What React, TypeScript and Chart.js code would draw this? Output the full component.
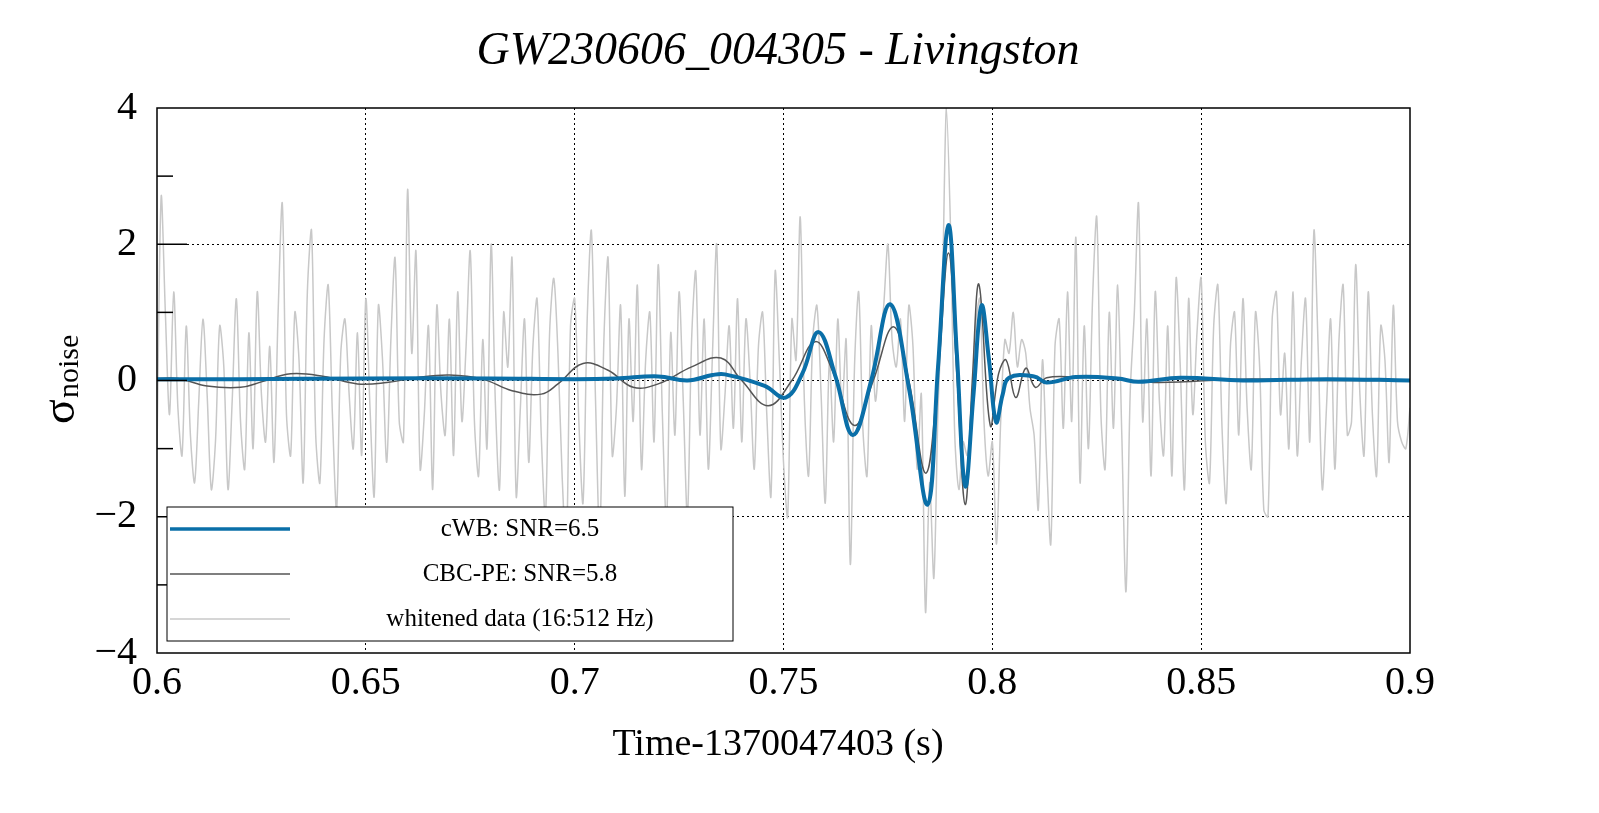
import React, { useEffect, useRef } from "react";
import { Chart, registerables } from "chart.js";
Chart.register(...registerables);

const whitenedStart = 0.6;
const whitenedStep = 0.001;
const whitened = [
  -1.0,2.7,1.0,-0.5,1.3,-0.4,-1.1,0.8,-0.8,-1.5,
  -0.3,0.9,-0.2,-1.6,-0.9,0.8,0.2,-1.6,-0.3,1.2,
  -0.6,-1.3,0.7,-1.0,1.3,-0.2,-0.9,0.5,-1.2,1.0,
  2.6,-0.5,-1.1,1.0,0.3,-1.5,1.3,2.2,-0.8,-1.5,
  0.6,1.4,-0.5,-1.9,0.4,0.9,-0.2,-1.0,0.7,-1.1,
  1.2,-0.4,-1.7,1.1,0.3,-1.2,0.6,1.8,-0.6,-0.9,
  2.8,0.4,1.9,-1.3,-0.5,0.8,-1.6,1.1,-0.2,-0.8,
  0.9,-1.1,1.3,-0.6,0.5,1.9,-0.6,-1.4,0.6,-1.0,
  2.0,-0.3,-1.6,1.0,0.2,1.8,-1.7,-0.4,0.9,-1.2,
  0.5,1.2,-0.8,-2.0,0.7,1.5,0.4,-1.4,-2.5,0.8,
  1.2,-0.6,-1.8,0.9,2.2,-0.3,-2.3,0.6,1.8,-1.1,
  -0.4,1.1,-1.7,0.9,-0.6,1.4,-1.3,0.3,1.0,-0.9,
  1.7,-0.5,-2.1,0.7,-0.8,1.3,-0.3,-2.0,0.6,1.6,
  -0.8,0.9,-1.3,0.4,2.0,-1.0,-0.2,0.8,-0.7,1.2,
  -0.9,0.9,0.0,-1.3,0.5,1.0,-0.5,-1.7,1.6,0.3,
  -1.2,-2.0,0.9,0.3,2.4,-0.3,-1.4,0.6,1.1,-0.2,
  -1.8,0.3,-0.9,0.9,-0.4,0.6,-2.7,0.2,1.3,-0.7,
  -1.4,0.8,-0.3,0.4,1.1,2.0,0.6,0.2,0.9,-0.6,
  1.1,0.5,-1.3,-0.2,-3.4,-1.5,-2.9,-0.4,1.2,4.0,
  2.2,-0.8,-1.6,-0.9,-1.1,-0.5,0.8,1.2,-0.6,-1.4,
  -0.9,-2.4,-0.6,0.6,0.4,1.0,0.2,0.6,0.4,-0.4,
  -0.8,-1.9,0.3,-1.2,-2.4,0.5,0.9,-0.7,1.3,-0.6,
  2.1,-1.5,0.8,-1.0,1.2,2.4,-0.5,-1.3,1.0,-0.7,
  1.4,-0.8,-3.1,-0.2,1.0,2.6,-0.6,0.9,-1.4,1.3,
  -0.3,-1.1,0.8,-1.4,1.5,0.2,-1.6,1.2,-0.5,0.7,
  1.5,-0.9,-1.5,0.8,1.4,-0.7,-1.8,0.5,1.0,-0.8,
  1.2,-0.4,-1.3,1.0,0.2,-1.9,-2.0,0.9,1.3,-0.5,
  0.4,-1.0,1.3,-1.1,0.3,1.2,-0.9,2.2,0.5,-1.6,
  -0.4,0.9,-1.3,0.6,1.4,-0.8,-0.6,1.7,-0.2,-1.1,
  1.3,-0.5,-1.4,0.8,0.3,-1.2,1.1,-0.6,-0.9,-1.0,
  -0.4,
];

const cwbTimes = [0.6,0.62,0.65,0.68,0.7,0.71,0.72,0.727,0.733,0.736,0.7455,0.7505,0.7545,0.7584,0.7625,0.7666,0.771,0.7755,0.780,0.7845,0.787,0.7895,0.7915,0.7935,0.7955,0.7974,0.7992,0.8009,0.8025,0.804,0.810,0.813,0.82,0.83,0.835,0.845,0.86,0.88,0.9];
const cwbValues = [0.02,0.02,0.03,0.03,0.02,0.03,0.06,0.0,0.08,0.09,-0.08,-0.25,0.1,0.71,0.05,-0.8,0.0,1.12,-0.1,-1.82,0.2,2.28,0.4,-1.55,-0.2,1.1,0.3,-0.61,-0.2,0.04,0.06,-0.03,0.05,0.03,-0.02,0.04,0.0,0.02,0.0];

const cbcTimes = [0.6,0.605,0.612,0.62,0.625,0.632,0.64,0.648,0.655,0.662,0.67,0.678,0.685,0.692,0.696,0.702,0.708,0.714,0.72,0.728,0.735,0.74,0.7463,0.752,0.7576,0.762,0.767,0.7715,0.7763,0.780,0.7841,0.787,0.7895,0.7915,0.7935,0.7952,0.7968,0.7995,0.8015,0.8033,0.8056,0.808,0.8103,0.813,0.82,0.83,0.84,0.86,0.88,0.9];
const cbcValues = [0.03,0.03,-0.08,-0.1,-0.02,0.1,0.06,-0.05,-0.03,0.04,0.08,0.02,-0.15,-0.2,-0.05,0.25,0.15,-0.1,-0.05,0.2,0.33,0.0,-0.37,0.0,0.57,0.1,-0.66,0.0,0.79,0.0,-1.36,0.1,1.87,0.1,-1.82,0.0,1.41,-0.66,0.1,0.3,-0.25,0.18,-0.1,0.04,0.05,0.02,-0.03,0.02,0.0,0.0];

const xTicks = [0.6, 0.65, 0.7, 0.75, 0.8, 0.85, 0.9];
const yTicks = [-4, -2, 0, 2, 4];
const legendLabels = ["cWB: SNR=6.5", "CBC-PE: SNR=5.8", "whitened data (16:512 Hz)"];
const colors = ["#0a6fa8", "#555555", "#c8c8c8"];

const SERIF = "'Liberation Serif', 'DejaVu Serif', serif";

export default function App() {
  const ref = useRef<HTMLCanvasElement>(null);
  useEffect(() => {
    const wd = whitened.map((v, i) => ({ x: whitenedStart + i * whitenedStep, y: v }));
    const cwb = cwbTimes.map((t, i) => ({ x: t, y: cwbValues[i] }));
    const cbc = cbcTimes.map((t, i) => ({ x: t, y: cbcValues[i] }));
    const deco = {
      id: "deco",
      afterDraw(c: any) {
        const ctx = c.ctx;
        const a = c.chartArea;
        const ys = c.scales.y;
        ctx.save();
        ctx.strokeStyle = "#000";
        ctx.lineWidth = 1.5;
        ctx.strokeRect(a.left, a.top, a.right - a.left, a.bottom - a.top);
        for (let v = -3; v <= 3; v++) {
          const y = ys.getPixelForValue(v);
          const len = v % 2 === 0 ? 30 : 16;
          ctx.beginPath();
          ctx.moveTo(a.left, y);
          ctx.lineTo(a.left + len, y);
          ctx.stroke();
        }
        ctx.fillStyle = "#000";
        ctx.textAlign = "center";
        ctx.textBaseline = "middle";
        ctx.font = `italic 46px ${SERIF}`;
        ctx.fillText("GW230606_004305 - Livingston", 778, 52);
        ctx.font = `38px ${SERIF}`;
        ctx.fillText("Time-1370047403 (s)", 778, 745);
        ctx.save();
        ctx.translate(62, 382);
        ctx.rotate(-Math.PI / 2);
        ctx.font = `46px ${SERIF}`;
        ctx.textAlign = "left";
        ctx.fillText("σ", -42, 0);
        ctx.font = `30px ${SERIF}`;
        ctx.fillText("noise", -16, 8);
        ctx.restore();
        const lx = 167, ly = 507, lw = 566, lh = 134;
        ctx.fillStyle = "#fff";
        ctx.fillRect(lx, ly, lw, lh);
        ctx.lineWidth = 1;
        ctx.strokeRect(lx, ly, lw, lh);
        const widths = [3.5, 1.5, 1.5];
        ctx.font = `25px ${SERIF}`;
        legendLabels.forEach((t, i) => {
          const y = ly + 22 + i * 45;
          ctx.strokeStyle = colors[i];
          ctx.lineWidth = widths[i];
          ctx.beginPath();
          ctx.moveTo(170, y);
          ctx.lineTo(290, y);
          ctx.stroke();
          ctx.fillStyle = "#000";
          ctx.textAlign = "center";
          ctx.fillText(t, 520, y);
        });
        ctx.restore();
      },
    };
    const chart = new Chart(ref.current!, {
      type: "scatter",
      data: {
        datasets: [
          { data: cwb, showLine: true, borderColor: colors[0], borderWidth: 4, pointRadius: 0, tension: 0.4 },
          { data: cbc, showLine: true, borderColor: colors[1], borderWidth: 1.5, pointRadius: 0, tension: 0.4 },
          { data: wd, showLine: true, borderColor: colors[2], borderWidth: 1.5, pointRadius: 0, tension: 0.3 },
        ],
      },
      options: {
        animation: false,
        responsive: false,
        maintainAspectRatio: false,
        layout: { padding: { top: 108, right: 189, left: 0, bottom: 0 } },
        plugins: { legend: { display: false }, tooltip: { enabled: false } },
        scales: {
          x: {
            type: "linear",
            min: 0.6,
            max: 0.9,
            afterBuildTicks: (s: any) => { s.ticks = xTicks.map((v) => ({ value: v })); },
            afterFit: (s: any) => { s.height = 160; },
            ticks: { color: "#000", font: { family: SERIF, size: 40 }, padding: 6, maxRotation: 0, callback: (v: any) => String(Number(Number(v).toFixed(2))) },
            grid: { color: (c: any) => (c.tick && (c.tick.value === 0.6 || c.tick.value === 0.9) ? "rgba(0,0,0,0)" : "#000"), lineWidth: 1, drawTicks: false } as any,
            border: { display: false, dash: [2, 3] } as any,
          },
          y: {
            min: -4,
            max: 4,
            afterBuildTicks: (s: any) => { s.ticks = yTicks.map((v) => ({ value: v })); },
            afterFit: (s: any) => { s.width = 157; },
            ticks: { color: "#000", font: { family: SERIF, size: 40 }, padding: 20, callback: (v: any) => (Number(v) < 0 ? "−" + Math.abs(Number(v)) : String(v)) },
            grid: { color: (c: any) => (c.tick && Math.abs(c.tick.value) === 4 ? "rgba(0,0,0,0)" : "#000"), lineWidth: 1, drawTicks: false } as any,
            border: { display: false, dash: [2, 3] } as any,
          },
        },
      },
      plugins: [deco],
    });
    return () => chart.destroy();
  }, []);
  return (
    <div style={{ position: "absolute", left: 0, top: 0, width: 1599, height: 813, background: "#fff" }}>
      <canvas ref={ref} width={1599} height={813} style={{ width: 1599, height: 813 }} />
    </div>
  );
}
